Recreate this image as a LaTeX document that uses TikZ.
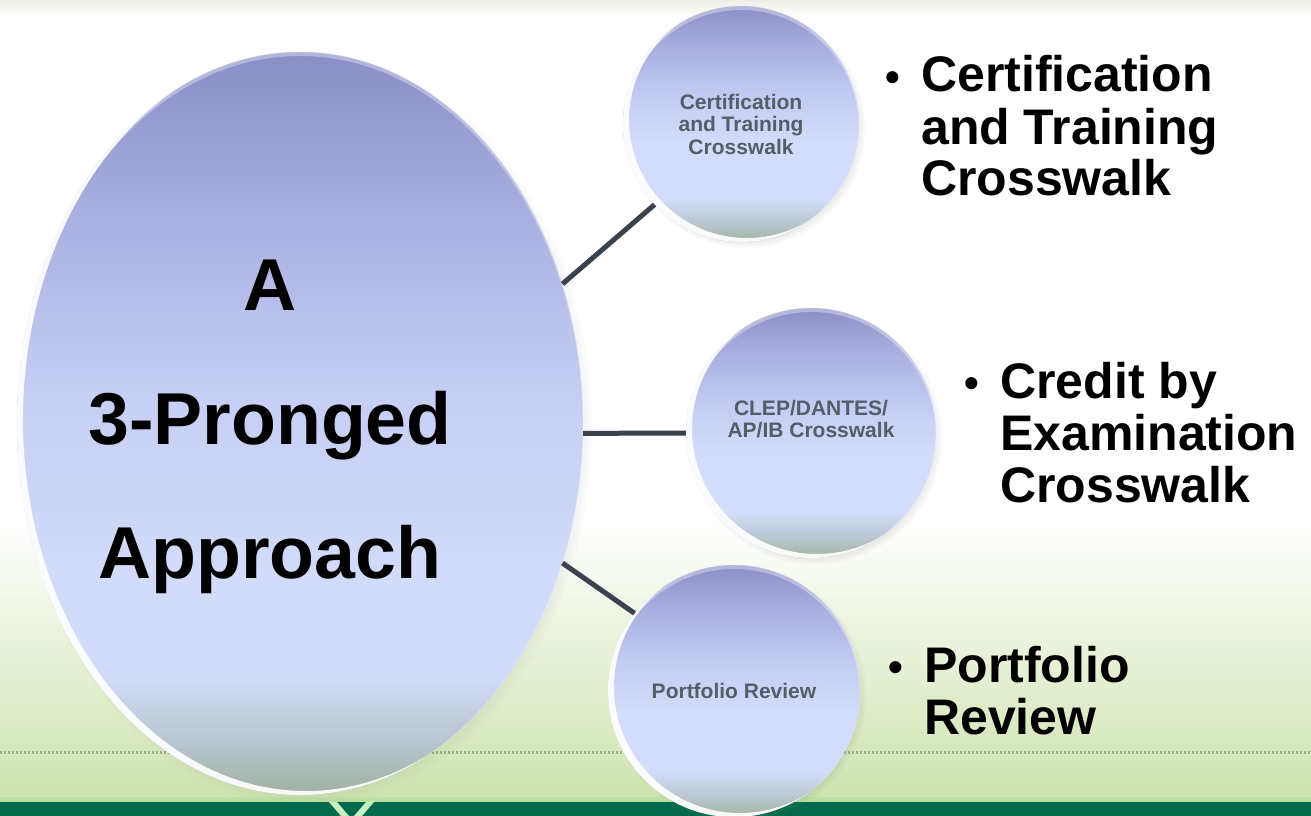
\documentclass[tikz,border=0pt]{standalone}
\usepackage{fontspec}
\setmainfont{Liberation Sans}
\usetikzlibrary{shapes.geometric,shadows,calc}
\definecolor{sb0}{HTML}{A2B59F}
\definecolor{sb1}{HTML}{B9C6CF}
\definecolor{sb2}{HTML}{D3DCFA}
\definecolor{sb3}{HTML}{C3CBF2}
\definecolor{sb4}{HTML}{A4A9DB}
\definecolor{sb5}{HTML}{8A8EC6}
\definecolor{bb0}{HTML}{9FB0A0}
\definecolor{bb1}{HTML}{B5C2C8}
\definecolor{bb2}{HTML}{D2DBF9}
\definecolor{bb3}{HTML}{C6CEF4}
\definecolor{bb4}{HTML}{ACB2E2}
\definecolor{bb5}{HTML}{898EC7}
\definecolor{txtgray}{HTML}{555D68}
\definecolor{connc}{HTML}{3A424E}
\definecolor{bgtop}{HTML}{EFEFE6}
\definecolor{bgmid}{HTML}{E4EFD3}
\definecolor{bggreen}{HTML}{CEE3AF}
\definecolor{striplight}{HTML}{BFE0A5}
\definecolor{banddark}{HTML}{036B4B}
\definecolor{dotc}{HTML}{9AAE8A}
\definecolor{vcol}{HTML}{C9EFC4}
\pgfdeclareverticalshading{orbsmall}{100bp}{color(0bp)=(sb0); color(25bp)=(sb0); color(29bp)=(sb1); color(34bp)=(sb2); color(46bp)=(sb2); color(56bp)=(sb3); color(68bp)=(sb4); color(75bp)=(sb5); color(100bp)=(sb5)}
\pgfdeclareverticalshading{orbbig}{100bp}{color(0bp)=(bb0); color(25bp)=(bb0); color(28bp)=(bb1); color(33bp)=(bb2); color(40bp)=(bb2); color(52bp)=(bb3); color(63bp)=(bb4); color(75bp)=(bb5); color(100bp)=(bb5)}
\newcommand\mybul{\makebox[36pt][l]{\raisebox{1pt}{\fontsize{42}{42}\selectfont\textbullet}}}
\newcommand\orbrim[4]{% center, xr, yr, name
  \begin{scope}
    \clip (#1) ellipse [x radius=#2pt, y radius=#3pt];
    \fill[white, opacity=.92, even odd rule] (#1) ellipse [x radius=#2pt, y radius=#3pt]
      ($(#1)+(6,-4)$) ellipse [x radius=#2pt, y radius=#3pt];
    \fill[white, opacity=.35, even odd rule] (#1) ellipse [x radius=#2pt, y radius=#3pt]
      ($(#1)+(0,4)$) ellipse [x radius=#2pt, y radius=#3pt];
  \end{scope}}
\tikzset{
  orb/.style={circle, inner sep=0pt, shade, shading=orbsmall, text=txtgray,
    font=\fontsize{21}{22.5}\selectfont\bfseries, align=center,
    circular drop shadow={shadow xshift=4pt, shadow yshift=-4pt, shadow scale=1.02, opacity=.35}},
  bigorb/.style={ellipse, inner sep=0pt, shade, shading=orbbig,
    minimum width=566pt, minimum height=743pt,
    circular drop shadow={shadow xshift=5pt, shadow yshift=-5pt, shadow scale=1.015, opacity=.35}},
  conn/.style={draw=connc, line width=5pt},
  rtext/.style={inner sep=0pt, font=\fontsize{50}{52}\selectfont\bfseries, text=black},
  titletext/.style={inner sep=0pt, font=\fontsize{73.5}{134}\selectfont\bfseries, text=black}
}
\begin{document}
\begin{tikzpicture}[x=1pt, y=-1pt]
\useasboundingbox (0,0) rectangle (1311,816);
% background
\fill[white] (0,0) rectangle (1311,816);
\shade[top color=bgtop, bottom color=white] (0,0) rectangle (1311,18);
\shade[top color=white, middle color=bgmid, bottom color=bggreen] (0,520) rectangle (1311,797);
\draw[dotc, line width=3pt, dash pattern=on 1.5pt off 2.5pt] (0,752) -- (1311,752);
\fill[striplight] (0,797) rectangle (1311,802);
\fill[banddark] (0,802) rectangle (1311,816);
\fill[vcol] (329,802) -- (337,802) -- (349,816) -- (341,816) -- cycle;
\fill[vcol] (366,802) -- (374,802) -- (362,816) -- (354,816) -- cycle;
% shapes
\node[bigorb] (big) at (300,423.5) {};
\orbrim{big.center}{283}{371.5}{big}
\node[orb, minimum size=236pt] (c1) at (741,124) {Certification\\and Training\\Crosswalk};
\orbrim{c1.center}{118}{118}{c1}
\node[orb, minimum size=250pt] (c2) at (811,433) {CLEP/DANTES/\\AP/IB Crosswalk\\[6pt]};
\orbrim{c2.center}{125}{125}{c2}
\node[orb, minimum size=252pt] (c3) at (734,691) {Portfolio Review};
\orbrim{c3.center}{126}{126}{c3}
% connectors
\draw[conn] (big.28) -- (c1.223);
\draw[conn] (big.-2) -- (c2.west);
\draw[conn] (big.-28) -- (c3.142);
% texts
\node[titletext, anchor=base] (title) at (270,310) {\begin{tabular}[t]{@{}c@{}}A\\3-Pronged\\Approach\end{tabular}};
\node[rtext, anchor=base west] (t1) at (885,92) {\begin{tabular}[t]{@{}l@{}l@{}}\mybul&Certification\\&and Training\\&Crosswalk\end{tabular}};
\node[rtext, anchor=base west] (t2) at (964,398) {\begin{tabular}[t]{@{}l@{}l@{}}\mybul&Credit by\\&Examination\\&Crosswalk\end{tabular}};
\node[rtext, anchor=base west] (t3) at (888,682) {\begin{tabular}[t]{@{}l@{}l@{}}\mybul&Portfolio\\&Review\end{tabular}};
\end{tikzpicture}
\end{document}
